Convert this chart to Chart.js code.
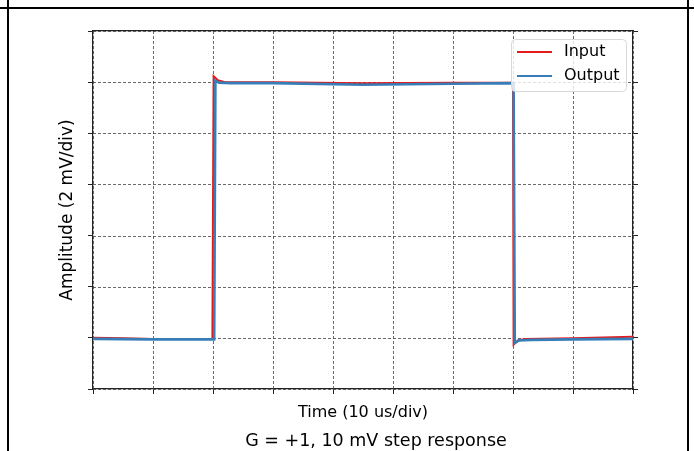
<!DOCTYPE html>
<html lang="en">
<head>
  <meta charset="UTF-8" />
  <title>Step Response</title>
  <script src="https://cdn.jsdelivr.net/npm/chart.js"></script>
  <style>
    body {
      margin: 0;
      padding: 0;
      background: #fff;
      font-family: "DejaVu Sans", sans-serif;
    }
    .frame {
      position: relative;
      width: 694px;
      height: 451px;
      overflow: hidden;
    }
    .hline { position: absolute; left: 0; top: 7px; width: 694px; height: 2px; background: #000; }
    .vline { position: absolute; top: 0; width: 2px; height: 451px; background: #000; }
    canvas { position: absolute; left: 0; top: 0; }
    .caption {
      position: absolute;
      left: 376px;
      top: 440px;
      transform: translate(-50%, -50%);
      font-size: 17.5px;
      color: #000;
      white-space: nowrap;
    }
  </style>
</head>
<body>
  <div class="frame">
    <canvas id="stepChart" width="694" height="451"></canvas>
    <div class="hline"></div>
    <div class="vline" style="left:7px;"></div>
    <div class="vline" style="left:687px;"></div>
    <div class="caption">G = +1, 10 mV step response</div>
  </div>
  <script>
    // values in scope divisions (x: 10 us/div, y: 2 mV/div)
    const seriesLabels = ['Input', 'Output'];
    const seriesColors = ['#e41a1c', '#377eb8'];

    const inputTime = [0, 0.5, 1.0, 1.99, 2.01, 2.08, 2.2, 3.0, 4.5, 6.0, 7.0, 7.01, 7.08, 7.2, 8.0, 9.0];
    const inputAmp  = [1.0, 0.99, 0.98, 0.98, 6.12, 6.04, 6.0, 6.0, 5.98, 5.99, 5.99, 0.87, 0.95, 0.98, 0.99, 1.02];

    const outputTime = [0, 1.0, 2.02, 2.04, 2.1, 2.3, 3.0, 4.5, 6.0, 7.01, 7.03, 7.1, 7.3, 8.0, 9.0];
    const outputAmp  = [0.98, 0.97, 0.97, 6.03, 5.99, 5.98, 5.98, 5.95, 5.97, 5.98, 0.9, 0.95, 0.96, 0.97, 0.98];

    const xDivs = 9;
    const yDivs = 7;

    function toPoints(xs, ys) {
      return xs.map((x, i) => ({ x: x, y: ys[i] }));
    }

    // dashed grid drawn at every tick of the library scales
    const dashedGrid = {
      id: 'dashedGrid',
      beforeDatasetsDraw(chart) {
        const { ctx, chartArea: a, scales } = chart;
        ctx.save();
        ctx.strokeStyle = '#444';
        ctx.lineWidth = 0.8;
        ctx.setLineDash([3, 2]);
        scales.x.ticks.forEach(t => {
          const px = Math.round(scales.x.getPixelForValue(t.value)) + 0.5;
          ctx.beginPath(); ctx.moveTo(px, a.top); ctx.lineTo(px, a.bottom); ctx.stroke();
        });
        scales.y.ticks.forEach(t => {
          const py = Math.round(scales.y.getPixelForValue(t.value)) + 0.5;
          ctx.beginPath(); ctx.moveTo(a.left, py); ctx.lineTo(a.right, py); ctx.stroke();
        });
        ctx.restore();
      }
    };

    // matplotlib-like legend box in the upper right corner
    const boxLegend = {
      id: 'boxLegend',
      afterDatasetsDraw(chart) {
        const { ctx, chartArea: a } = chart;
        const w = 115, h = 52;
        const left = a.right - 7 - w, top = a.top + 8;
        ctx.save();
        ctx.fillStyle = 'rgba(255,255,255,0.8)';
        ctx.strokeStyle = '#d8d8d8';
        ctx.lineWidth = 1;
        ctx.beginPath();
        ctx.roundRect(left + 0.5, top + 0.5, w, h, 4);
        ctx.fill();
        ctx.stroke();
        ctx.font = '16px "DejaVu Sans"';
        ctx.textBaseline = 'middle';
        chart.data.datasets.forEach((ds, i) => {
          const y = top + 13 + i * 24;
          ctx.strokeStyle = ds.borderColor;
          ctx.lineWidth = 2;
          ctx.beginPath(); ctx.moveTo(left + 6, y); ctx.lineTo(left + 41, y); ctx.stroke();
          ctx.fillStyle = '#000';
          ctx.fillText(ds.label, left + 53, y);
        });
        ctx.restore();
      }
    };

    const spine = { display: true, color: '#222', width: 1.2 };

    new Chart(document.getElementById('stepChart'), {
      type: 'line',
      data: {
        datasets: [
          {
            label: seriesLabels[0],
            data: toPoints(inputTime, inputAmp),
            borderColor: seriesColors[0],
            borderWidth: 2,
            pointRadius: 0,
            tension: 0,
            order: 2
          },
          {
            label: seriesLabels[1],
            data: toPoints(outputTime, outputAmp),
            borderColor: seriesColors[1],
            borderWidth: 2.6,
            pointRadius: 0,
            tension: 0,
            order: 1
          }
        ]
      },
      options: {
        responsive: false,
        animation: false,
        layout: { padding: { left: 57.8, right: 56, top: 31, bottom: 28.4 } },
        plugins: {
          legend: { display: false },
          tooltip: { enabled: false }
        },
        scales: {
          x: {
            type: 'linear',
            position: 'bottom',
            min: 0,
            max: xDivs,
            ticks: { display: false, stepSize: 1 },
            grid: { drawOnChartArea: false, drawTicks: true, tickLength: 5, tickColor: '#222', tickWidth: 1 },
            border: spine,
            title: {
              display: true, text: 'Time (10 us/div)', color: '#000',
              font: { family: 'DejaVu Sans', size: 16, lineHeight: 1.2 },
              padding: { top: 9.4, bottom: 0 }
            }
          },
          x2: {
            type: 'linear',
            position: 'top',
            min: 0,
            max: xDivs,
            ticks: { display: false },
            grid: { drawOnChartArea: false, drawTicks: false },
            border: spine
          },
          y: {
            type: 'linear',
            position: 'left',
            min: 0,
            max: yDivs,
            ticks: { display: false, stepSize: 1 },
            grid: { drawOnChartArea: false, drawTicks: true, tickLength: 5, tickColor: '#222', tickWidth: 1 },
            border: spine,
            title: {
              display: true, text: 'Amplitude (2 mV/div)', color: '#000',
              font: { family: 'DejaVu Sans', size: 17, lineHeight: 1.2 },
              padding: { top: 0, bottom: 9.8 }
            }
          },
          y2: {
            type: 'linear',
            position: 'right',
            min: 0,
            max: yDivs,
            ticks: { display: false, stepSize: 1 },
            grid: { drawOnChartArea: false, drawTicks: true, tickLength: 5, tickColor: '#222', tickWidth: 1 },
            border: spine
          }
        }
      },
      plugins: [dashedGrid, boxLegend]
    });
  </script>
</body>
</html>
